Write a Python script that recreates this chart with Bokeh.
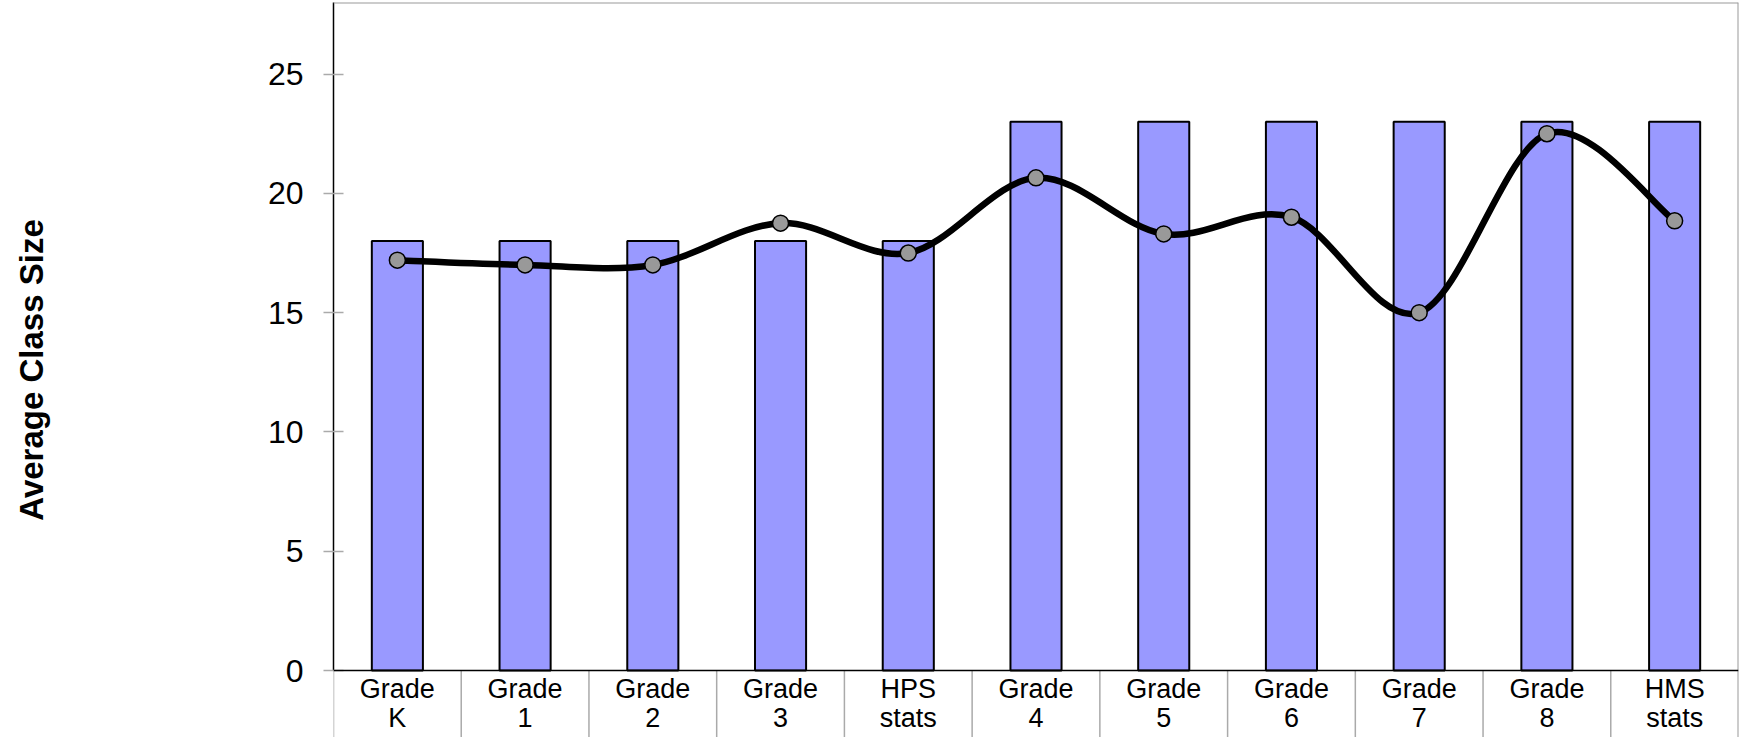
from bokeh.plotting import figure
from bokeh.models import Range1d, FixedTicker, Span
from bokeh.core.properties import value
from bokeh.embed import file_html
from bokeh.resources import INLINE

# ---- data ----
categories = ["Grade\nK", "Grade\n1", "Grade\n2", "Grade\n3", "HPS\nstats",
              "Grade\n4", "Grade\n5", "Grade\n6", "Grade\n7", "Grade\n8", "HMS\nstats"]
bar_values = [18, 18, 18, 18, 18, 23, 23, 23, 23, 23, 23]
line_values = [17.2, 17.0, 17.0, 18.75, 17.5, 20.65, 18.3, 19.0, 15.0, 22.5, 18.85]
y_ticks = [0, 5, 10, 15, 20, 25]
y_title = "Average Class Size"

FONT = "Liberation Sans"
n = len(categories)
xs = [i + 0.5 for i in range(n)]
Y_TOP = 28.0
Y_BOTTOM = -2.808  # room below zero for the category table

W, H = 1742, 737
p = figure(width=W, height=H, output_backend="svg", toolbar_location=None,
           x_range=Range1d(0, n), y_range=Range1d(Y_BOTTOM, Y_TOP),
           min_border_left=333, min_border_right=4, min_border_top=2, min_border_bottom=0)
p.xgrid.visible = False
p.ygrid.visible = False
p.xaxis.visible = False
p.outline_line_color = None
p.background_fill_color = "white"
p.border_fill_color = "white"

# frame borders (top, right) and category separators below zero
p.add_layout(Span(location=Y_TOP, dimension="width", line_color="#999999", line_width=2))
p.add_layout(Span(location=n, dimension="height", line_color="#999999", line_width=2))
seps = list(range(0, n))
p.segment(x0=seps, y0=[0] * len(seps), x1=seps, y1=[Y_BOTTOM] * len(seps),
          line_color="#AAAAAA", line_width=1.5)

# bars
p.vbar(x=xs, top=bar_values, width=0.4, bottom=0,
       fill_color="#9999FF", line_color="black", line_width=2)

# zero line
p.add_layout(Span(location=0, dimension="width", line_color="black", line_width=1.5))

# smooth line (Catmull-Rom style Bezier segments through the data points)
x0s, y0s, x1s, y1s, cx0s, cy0s, cx1s, cy1s = [], [], [], [], [], [], [], []
for i in range(n - 1):
    xp, yp = (xs[i - 1], line_values[i - 1]) if i > 0 else (xs[i], line_values[i])
    xn2, yn2 = (xs[i + 2], line_values[i + 2]) if i + 2 < n else (xs[i + 1], line_values[i + 1])
    x0s.append(xs[i]); y0s.append(line_values[i])
    x1s.append(xs[i + 1]); y1s.append(line_values[i + 1])
    cx0s.append(xs[i] + (xs[i + 1] - xp) / 6); cy0s.append(line_values[i] + (line_values[i + 1] - yp) / 6)
    cx1s.append(xs[i + 1] - (xn2 - xs[i]) / 6); cy1s.append(line_values[i + 1] - (yn2 - line_values[i]) / 6)
p.bezier(x0=x0s, y0=y0s, x1=x1s, y1=y1s, cx0=cx0s, cy0=cy0s, cx1=cx1s, cy1=cy1s,
         line_color="black", line_width=6.5, line_cap="round")
p.scatter(x=xs, y=line_values, size=16, fill_color="#999999", line_color="black", line_width=1.5)

# category labels (two lines each)
line1 = [c.split("\n")[0] for c in categories]
line2 = [c.split("\n")[1] for c in categories]
p.text(x=xs, y=[0] * n, text=line1, text_font=value(FONT), text_font_size="27px",
       text_color="black", text_align="center", text_baseline="alphabetic", y_offset=18)
p.text(x=xs, y=[0] * n, text=line2, text_font=value(FONT), text_font_size="27px",
       text_color="black", text_align="center", text_baseline="alphabetic", y_offset=47)

# y axis
ya = p.yaxis[0]
ya.bounds = (0, Y_TOP)
ya.ticker = FixedTicker(ticks=y_ticks)
ya.major_tick_in = 10
ya.major_tick_out = 10
ya.major_tick_line_color = "#AAAAAA"
ya.major_tick_line_width = 1.5
ya.minor_tick_line_color = None
ya.axis_line_color = "black"
ya.axis_line_width = 1.5
ya.major_label_text_font = FONT
ya.major_label_text_font_size = "32px"
ya.major_label_text_color = "black"
ya.major_label_standoff = 20
ya.axis_label = y_title
ya.axis_label_text_font = FONT
ya.axis_label_text_font_size = "33px"
ya.axis_label_text_font_style = "bold"
ya.axis_label_text_color = "black"
ya.axis_label_standoff = 215

open("out.html", "w").write(file_html(p, INLINE))
